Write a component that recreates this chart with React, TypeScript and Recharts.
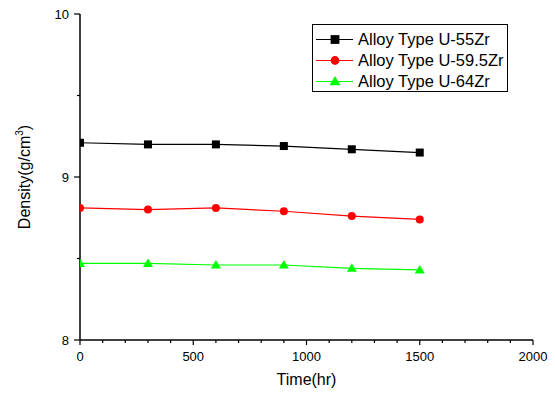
import React from "react";
import { LineChart, Line, XAxis, YAxis, Legend, Label } from "recharts";

// Density of U-Zr alloys over time
const TIME_HR = [0, 300, 600, 900, 1200, 1500];
const U55ZR = [9.21, 9.2, 9.2, 9.19, 9.17, 9.15];
const U595ZR = [8.81, 8.8, 8.81, 8.79, 8.76, 8.74];
const U64ZR = [8.47, 8.47, 8.46, 8.46, 8.44, 8.43];

const X_TICKS = [
  0, 100, 200, 300, 400, 500, 600, 700, 800, 900, 1000, 1100, 1200, 1300, 1400,
  1500, 1600, 1700, 1800, 1900, 2000,
];
const X_LABELED = [0, 500, 1000, 1500, 2000];
const Y_TICKS = [8, 8.5, 9, 9.5, 10];
const Y_LABELED = [8, 9, 10];

const FONT = "'Liberation Sans', Arial, sans-serif";

type Shape = "square" | "circle" | "triangle";

const SERIES: { key: string; name: string; color: string; shape: Shape }[] = [
  { key: "a", name: "Alloy Type U-55Zr", color: "#000000", shape: "square" },
  { key: "b", name: "Alloy Type U-59.5Zr", color: "#ff0000", shape: "circle" },
  { key: "c", name: "Alloy Type U-64Zr", color: "#00ff00", shape: "triangle" },
];

const data = TIME_HR.map((t, i) => ({
  t,
  a: U55ZR[i],
  b: U595ZR[i],
  c: U64ZR[i],
}));

function Marker({
  shape,
  cx,
  cy,
  color,
  scale = 1,
}: {
  shape: Shape;
  cx: number;
  cy: number;
  color: string;
  scale?: number;
}) {
  if (shape === "square") {
    const h = 4 * scale;
    return <rect x={cx - h} y={cy - h} width={h * 2} height={h * 2} fill={color} />;
  }
  if (shape === "circle") {
    return <circle cx={cx} cy={cy} r={4 * scale} fill={color} />;
  }
  const w = 5 * scale;
  return (
    <polygon
      points={`${cx},${cy - 5 * scale} ${cx + w},${cy + 3.5 * scale} ${cx - w},${cy + 3.5 * scale}`}
      fill={color}
    />
  );
}

function XTick(props: any) {
  const { x, y, payload } = props;
  const major = X_LABELED.includes(payload.value);
  return (
    <g>
      <line x1={x} y1={y} x2={x} y2={y + (major ? 5 : 3)} stroke="#000" strokeWidth={1.2} />
      {major && (
        <text x={x} y={y + 21} textAnchor="middle" fontFamily={FONT} fontSize={13} fill="#000">
          {payload.value}
        </text>
      )}
    </g>
  );
}

function YTick(props: any) {
  const { x, y, payload } = props;
  const major = Y_LABELED.includes(payload.value);
  return (
    <g>
      <line x1={x} y1={y} x2={x - (major ? 6 : 3)} y2={y} stroke="#000" strokeWidth={1.2} />
      {major && (
        <text x={x - 11} y={y} dy="0.36em" textAnchor="end" fontFamily={FONT} fontSize={13} fill="#000">
          {payload.value}
        </text>
      )}
    </g>
  );
}

function LegendBox() {
  return (
    <div
      style={{
        width: 196,
        height: 68,
        boxSizing: "border-box",
        border: "1px solid #000",
        background: "#fff",
        paddingTop: 4,
        fontFamily: FONT,
        fontSize: 16.5,
        color: "#000",
      }}
    >
      {SERIES.map((s) => (
        <div key={s.key} style={{ display: "flex", alignItems: "center", height: 21 }}>
          <svg width={45} height={21} style={{ display: "block" }}>
            <line x1={3} x2={40} y1={10.5} y2={10.5} stroke={s.color} strokeWidth={1} />
            <Marker shape={s.shape} cx={22} cy={10.5} color={s.color} scale={1.1} />
          </svg>
          <span style={{ whiteSpace: "nowrap" }}>{s.name}</span>
        </div>
      ))}
    </div>
  );
}

export default function App() {
  return (
    <div style={{ position: "absolute", left: 0, top: 0, width: 555, height: 394, background: "#fff" }}>
      <LineChart width={555} height={394} data={data} margin={{ top: 14, right: 22, bottom: 0, left: 0 }}>
        <XAxis
          dataKey="t"
          type="number"
          domain={[0, 2000]}
          ticks={X_TICKS}
          interval={0}
          allowDataOverflow
          height={54}
          tickSize={0}
          tickMargin={0}
          tickLine={false}
          axisLine={{ stroke: "#000", strokeWidth: 1.5 }}
          tick={<XTick />}
        >
          <Label
            content={({ viewBox }: any) => (
              <text
                x={viewBox.x + viewBox.width / 2}
                y={viewBox.y + 45}
                textAnchor="middle"
                fontFamily={FONT}
                fontSize={16}
                fill="#000"
              >
                Time(hr)
              </text>
            )}
          />
        </XAxis>
        <YAxis
          type="number"
          domain={[8, 10]}
          ticks={Y_TICKS}
          interval={0}
          allowDataOverflow
          width={80}
          tickSize={0}
          tickMargin={0}
          tickLine={false}
          axisLine={{ stroke: "#000", strokeWidth: 1.5 }}
          tick={<YTick />}
        >
          <Label
            content={({ viewBox }: any) => {
              const cx = 30;
              const cy = viewBox.y + viewBox.height / 2;
              return (
                <text
                  x={cx}
                  y={cy}
                  transform={`rotate(-90, ${cx}, ${cy})`}
                  textAnchor="middle"
                  fontFamily={FONT}
                  fontSize={16}
                  fill="#000"
                >
                  Density(g/cm
                  <tspan fontSize={10} dy={-7}>
                    3
                  </tspan>
                  <tspan dy={7}>)</tspan>
                </text>
              );
            }}
          />
        </YAxis>
        <Legend
          layout="vertical"
          align="center"
          verticalAlign="middle"
          wrapperStyle={{ left: 312, top: 24, width: 196, height: 68 }}
          content={() => <LegendBox />}
        />
        {SERIES.map((s) => (
          <Line
            key={s.key}
            type="linear"
            dataKey={s.key}
            name={s.name}
            stroke={s.color}
            strokeWidth={1.2}
            isAnimationActive={false}
            activeDot={false}
            dot={(p: any) => (
              <Marker key={`${s.key}-${p.index}`} shape={s.shape} cx={p.cx} cy={p.cy} color={s.color} />
            )}
          />
        ))}
      </LineChart>
    </div>
  );
}
